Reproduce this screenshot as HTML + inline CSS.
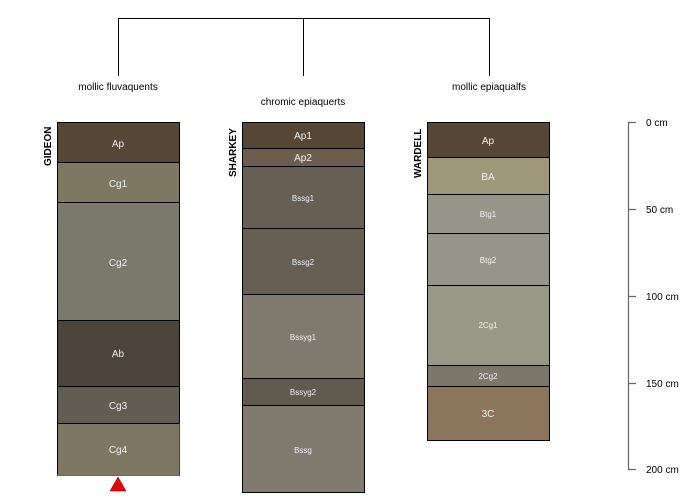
<!DOCTYPE html>
<html><head><meta charset="utf-8"><style>body{margin:0;background:#fff}svg{display:block}text{font-family:"Liberation Sans",sans-serif}</style></head><body>
<svg width="700" height="500" viewBox="0 0 700 500" xmlns="http://www.w3.org/2000/svg">
<g stroke="#000" stroke-width="1" fill="none">
<path d="M118.5 76V18.5H489.5V76M303.5 18.5V76"/>
</g>
<g font-size="10" fill="#000" text-anchor="middle">
<text x="118" y="90">mollic fluvaquents</text>
<text x="303" y="105">chromic epiaquerts</text>
<text x="489" y="90">mollic epiaqualfs</text>
</g>
<g stroke="#000" stroke-width="1">
<!-- Gideon -->
<rect x="57.5" y="122.5" width="122" height="40" fill="#554636"/>
<rect x="57.5" y="162.5" width="122" height="40" fill="#7e7862"/>
<rect x="57.5" y="202.5" width="122" height="118" fill="#7b786c"/>
<rect x="57.5" y="320.5" width="122" height="66" fill="#4c443a"/>
<rect x="57.5" y="386.5" width="122" height="37" fill="#615d52"/>
<rect x="57.5" y="423.5" width="122" height="52" fill="#7e7764" stroke="#666"/>
<line x1="57" y1="423.5" x2="180" y2="423.5"/>
<line x1="57.5" y1="423" x2="57.5" y2="475"/>
<line x1="179.5" y1="423" x2="179.5" y2="475" stroke="#444"/>
<!-- Sharkey -->
<rect x="242.5" y="122.5" width="122" height="26" fill="#554636"/>
<rect x="242.5" y="148.5" width="122" height="18" fill="#6d5d4c"/>
<rect x="242.5" y="166.5" width="122" height="62" fill="#675f54"/>
<rect x="242.5" y="228.5" width="122" height="66" fill="#675f54"/>
<rect x="242.5" y="294.5" width="122" height="84" fill="#807a6e"/>
<rect x="242.5" y="378.5" width="122" height="27" fill="#615a4f"/>
<rect x="242.5" y="405.5" width="122" height="87" fill="#807a6e"/>
<!-- Wardell -->
<rect x="427.5" y="122.5" width="122" height="35" fill="#554636"/>
<rect x="427.5" y="157.5" width="122" height="37" fill="#9e9779"/>
<rect x="427.5" y="194.5" width="122" height="39" fill="#97958a"/>
<rect x="427.5" y="233.5" width="122" height="52" fill="#97958a"/>
<rect x="427.5" y="285.5" width="122" height="80" fill="#999786"/>
<rect x="427.5" y="365.5" width="122" height="21" fill="#7b786b"/>
<rect x="427.5" y="386.5" width="122" height="54" fill="#8c765b"/>
</g>
<g fill="#f0f0f0" text-anchor="middle" font-size="10">
<text x="118" y="147">Ap</text><text x="118" y="187">Cg1</text><text x="118" y="266">Cg2</text>
<text x="118" y="357">Ab</text><text x="118" y="409">Cg3</text><text x="118" y="453">Cg4</text>
<text x="303" y="139">Ap1</text><text x="303" y="161">Ap2</text>
<text x="303" y="201" font-size="8">Bssg1</text><text x="303" y="265" font-size="8">Bssg2</text>
<text x="303" y="340" font-size="8">Bssyg1</text><text x="303" y="395" font-size="8">Bssyg2</text>
<text x="303" y="453" font-size="8">Bssg</text>
<text x="488" y="144">Ap</text><text x="488" y="180">BA</text>
<text x="488" y="217" font-size="8">Btg1</text><text x="488" y="263" font-size="8">Btg2</text>
<text x="488" y="328" font-size="8">2Cg1</text><text x="488" y="379" font-size="8">2Cg2</text>
<text x="488" y="417">3C</text>
</g>
<g font-size="10" font-weight="bold" fill="#000">
<text transform="translate(51,166) rotate(-90)">GIDEON</text>
<text transform="translate(236,177) rotate(-90)">SHARKEY</text>
<text transform="translate(421,178) rotate(-90)">WARDELL</text>
</g>
<polygon points="118,477 110,491 126,491" fill="#e00" stroke="#600" stroke-width="0.5"/>
<g stroke="#666" stroke-width="1.2" fill="none">
<path d="M636 122.5H628.5V469.5H636M628.5 209.5H636M628.5 296.5H636M628.5 383.5H636"/>
</g>
<g font-size="10" fill="#000">
<text x="646" y="126">0 cm</text><text x="646" y="213">50 cm</text><text x="646" y="300">100 cm</text>
<text x="646" y="387">150 cm</text><text x="646" y="473">200 cm</text>
</g>
</svg>
</body></html>
